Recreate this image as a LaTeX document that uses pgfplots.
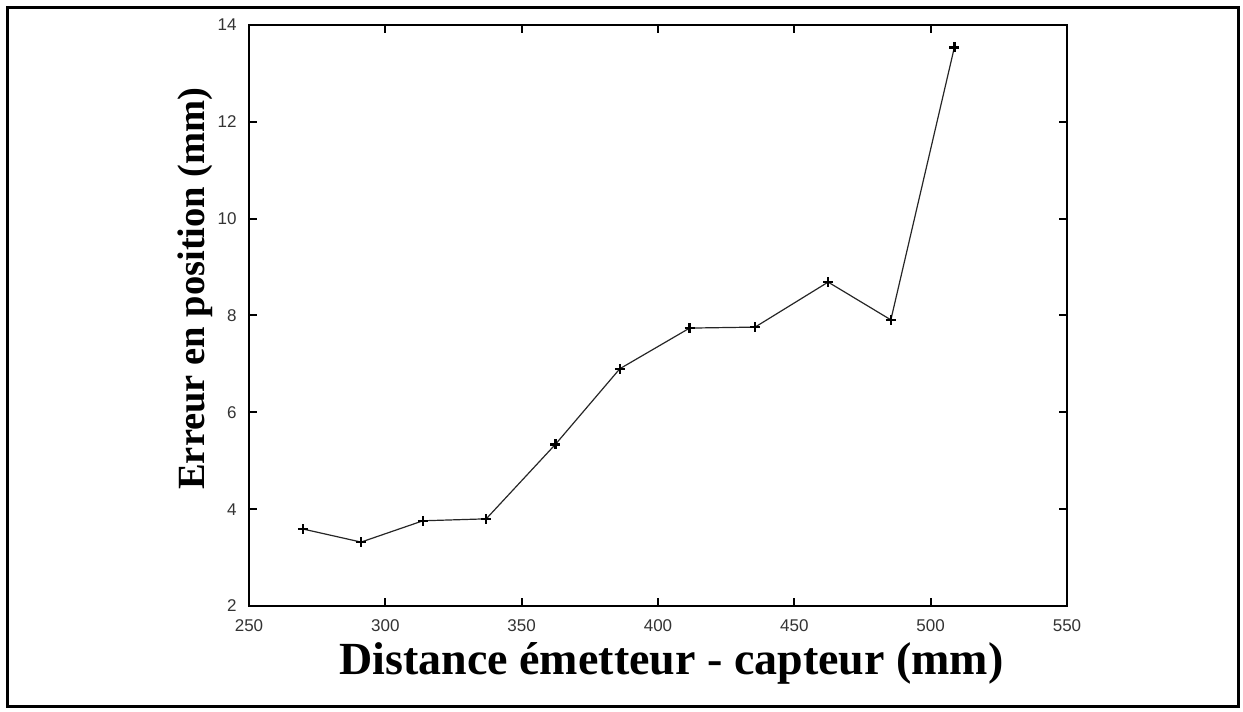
\documentclass[border=0pt]{standalone}
\usepackage{pgfplots}
\pgfplotsset{compat=1.18}
\usepackage{fontspec}
\setmainfont{Liberation Serif}
\newfontfamily\ticksf{Liberation Sans}
\begin{document}
\begin{tikzpicture}[x=1pt,y=1pt]
\useasboundingbox (0,0) rectangle (1243,712);
\draw[line width=3pt] (7,5) rectangle (1238,704);
\begin{axis}[
  at={(249pt,106pt)}, anchor=south west,
  scale only axis, width=818pt, height=581pt,
  xmin=250, xmax=550, ymin=2, ymax=14,
  xtick={250,300,...,550}, ytick={2,4,...,14},
  axis line style={line width=2pt},
  tick style={line width=2pt, black},
  tick align=inside, major tick length=8pt,
  xtick pos=both, ytick pos=both,
  /pgf/number format/assume math mode=true,
  ticklabel style={font=\ticksf\fontsize{17}{20}\selectfont, text=black!80},
  xticklabel style={yshift=-10pt},
  yticklabel style={xshift=-9pt},
  xlabel={Distance émetteur - capteur (mm)},
  ylabel={Erreur en position (mm)},
  xlabel style={font=\bfseries\fontsize{46}{54}\selectfont, at={(rel axis cs:0.5165,0)}, anchor=base, yshift=-69pt},
  ylabel style={font=\bfseries\fontsize{38.5}{44}\selectfont, at={(axis description cs:-0.066,0.5465)}, anchor=center},
]
\addplot[black!85, line width=1.2pt, mark=+, mark size=5pt, mark options={line width=2.5pt, black}] coordinates {
(269.8,3.59) (291.1,3.32) (313.8,3.76) (337.0,3.80) (362.4,5.34) (386.0,6.90)
(411.6,7.74) (435.6,7.76) (462.4,8.69) (485.4,7.91) (508.7,13.54)
};
\end{axis}
\end{tikzpicture}
\end{document}
